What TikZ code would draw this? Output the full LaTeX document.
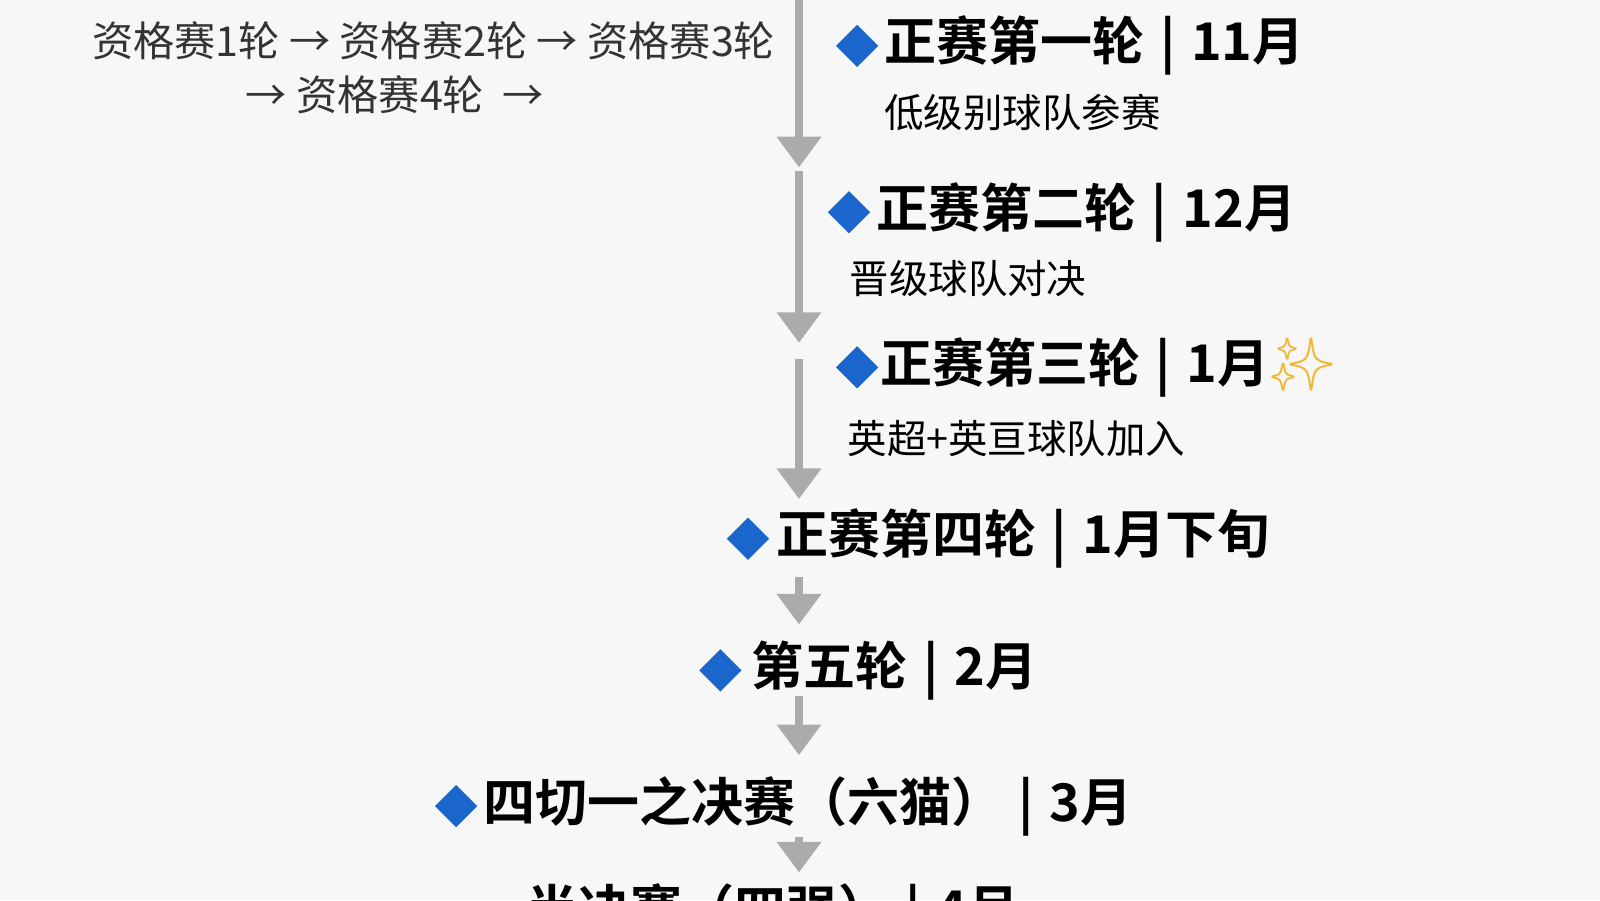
\documentclass[tikz,border=0pt]{standalone}
\usepackage{fontspec}
\setmainfont{Noto Sans CJK SC}[BoldFont={Noto Sans CJK SC Bold}]
\newfontfamily\emojifont{Noto Emoji}
\usetikzlibrary{shapes.geometric,arrows.meta}
\definecolor{bgcol}{HTML}{F7F7F7}
\definecolor{flowgray}{HTML}{ABABAD}
\definecolor{diablue}{HTML}{1A66CC}
\definecolor{sparkgold}{HTML}{F2B630}
\newcommand{\sepbar}{\hspace{0.3em}|\hspace{0.3em}}
\tikzset{
  dia/.style={diamond, fill=diablue, inner sep=0pt, minimum size=0.42cm},
  title/.style={anchor=west, inner sep=0pt, font=\fontsize{14.5}{16}\selectfont\bfseries},
  sub/.style={anchor=west, inner sep=0pt, font=\fontsize{11}{13}\selectfont},
  qual/.style={inner sep=0pt, font=\fontsize{11.5}{13}\selectfont, text=black!80},
  flow/.style={draw=flowgray, line width=0.08cm,
    -{Triangle[width=0.42cm,length=0.3cm]}, flowgray}
}
\begin{document}
\begin{tikzpicture}
  \fill[bgcol] (0,0) rectangle (15.68,8.82);
  \clip (0,0) rectangle (15.68,8.82);
  % qualifying rounds
  \node[qual] (Q1) at (4.25,8.42) {资格赛1轮 → 资格赛2轮 → 资格赛3轮};
  \node[qual] (Q2) at (3.87,7.89) {→ 资格赛4轮 \ →};
  % main rounds
  \node[dia] (D1) at (8.40,8.37) {};
  \node[title] (T1) at (8.66,8.37) {正赛第一轮\sepbar 11月};
  \node[sub] (S1) at (8.66,7.72) {低级别球队参赛};
  \node[dia] (D2) at (8.32,6.74) {};
  \node[title] (T2) at (8.58,6.74) {正赛第二轮\sepbar 12月};
  \node[sub] (S2) at (8.32,6.09) {晋级球队对决};
  \node[dia] (D3) at (8.40,5.22) {};
  \node[title] (T3) at (8.62,5.22) {正赛第三轮\sepbar 1月{\color{sparkgold}\emojifont ✨}};
  \node[sub] (S3) at (8.30,4.52) {英超+英亘球队加入};
  \node[dia] (D4) at (7.33,3.54) {};
  \node[title] (T4) at (7.60,3.54) {正赛第四轮\sepbar 1月下旬};
  \node[dia] (D5) at (7.06,2.25) {};
  \node[title] (T5) at (7.36,2.25) {第五轮\sepbar 2月};
  \node[dia] (D6) at (4.47,0.92) {};
  \node[title] (T6) at (4.73,0.92) {四切一之决赛（六猫）\sepbar 3月};
  \node[title] (T7) at (5.15,-0.13) {半决赛（四强）\sepbar 4月};
  % connectors
  \coordinate (A0) at (7.83,8.9);
  \coordinate (A1) at (7.83,7.18);
  \coordinate (B0) at (7.83,7.14);
  \coordinate (B1) at (7.83,5.46);
  \coordinate (C0) at (7.83,5.30);
  \coordinate (C1) at (7.83,3.93);
  \coordinate (E0) at (7.83,3.17);
  \coordinate (E1) at (7.83,2.70);
  \coordinate (F0) at (7.83,2.00);
  \coordinate (F1) at (7.83,1.42);
  \coordinate (G0) at (7.83,0.62);
  \coordinate (G1) at (7.83,0.27);
  \draw[flow] (A0) -- (A1);
  \draw[flow] (B0) -- (B1);
  \draw[flow] (C0) -- (C1);
  \draw[flow] (E0) -- (E1);
  \draw[flow] (F0) -- (F1);
  \draw[flow] (G0) -- (G1);
\end{tikzpicture}
\end{document}
